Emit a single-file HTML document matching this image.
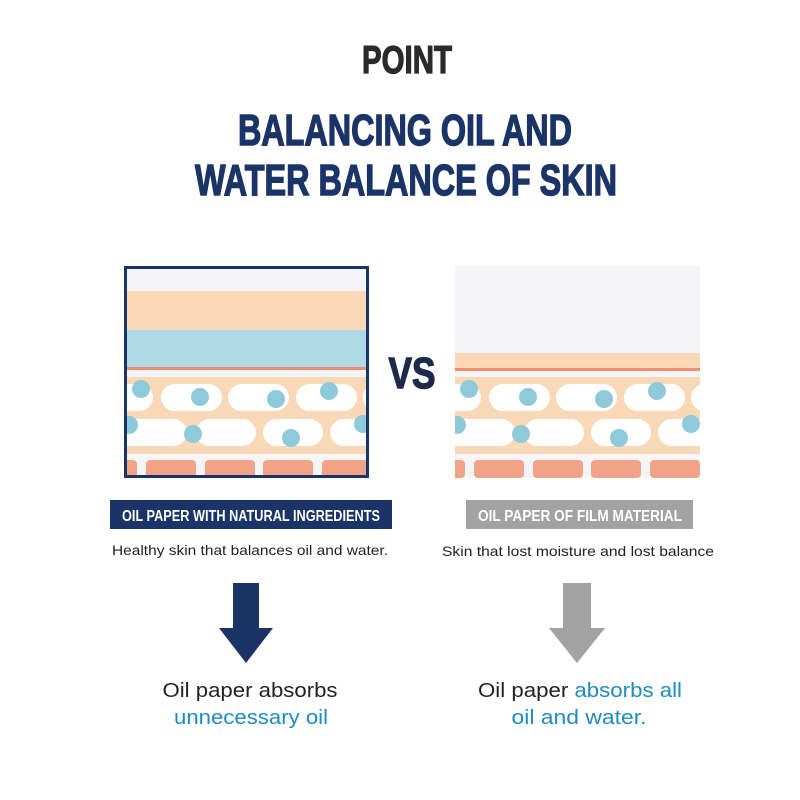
<!DOCTYPE html>
<html><head><meta charset="utf-8"><style>body{margin:0;background:#fff}svg{display:block}</style></head>
<body>
<svg width="800" height="800" viewBox="0 0 800 800" xmlns="http://www.w3.org/2000/svg" font-family="Liberation Sans, sans-serif">
<defs>
<g id="cells">
  <rect x="-50" y="377" width="400" height="77" fill="#f8d8b6"/>
  <g fill="#fff">
    <rect x="-30" y="384" width="56" height="27" rx="13.5"/>
    <rect x="34" y="384" width="61" height="27" rx="13.5"/>
    <rect x="101" y="384" width="61" height="27" rx="13.5"/>
    <rect x="169" y="384" width="61" height="27" rx="13.5"/>
    <rect x="236" y="384" width="61" height="27" rx="13.5"/>
    <rect x="-40" y="419" width="100" height="27" rx="13.5"/>
    <rect x="69" y="419" width="60" height="27" rx="13.5"/>
    <rect x="136" y="419" width="60" height="27" rx="13.5"/>
    <rect x="203" y="419" width="60" height="27" rx="13.5"/>
  </g>
  <g fill="#8ecad9">
    <circle cx="14" cy="389" r="9"/><circle cx="73" cy="397" r="9"/>
    <circle cx="149" cy="399" r="9"/><circle cx="202" cy="391" r="9"/>
    <circle cx="2" cy="425" r="9"/><circle cx="66" cy="434" r="9"/>
    <circle cx="164" cy="438" r="9"/><circle cx="236" cy="424" r="9"/>
  </g>
  <rect x="-50" y="454" width="400" height="6" fill="#f5f5f7"/>
  <g fill="#f2a286">
    <rect x="-40" y="460" width="50" height="18" rx="4"/>
    <rect x="19" y="460" width="50" height="18" rx="4"/>
    <rect x="78" y="460" width="50" height="18" rx="4"/>
    <rect x="136" y="460" width="50" height="18" rx="4"/>
    <rect x="195" y="460" width="50" height="18" rx="4"/>
  </g>
</g>
<clipPath id="cl"><rect x="127" y="268" width="239" height="207"/></clipPath>
<clipPath id="cr"><rect x="455" y="266" width="245" height="212"/></clipPath>
</defs>

<text x="407" y="73" font-size="39" font-weight="bold" fill="#2a2a2a" stroke="#2a2a2a" stroke-width="1.2" text-anchor="middle" textLength="90" lengthAdjust="spacingAndGlyphs">POINT</text>
<text x="405" y="145" font-size="44" font-weight="bold" fill="#1b3468" stroke="#1b3468" stroke-width="1.4" text-anchor="middle" textLength="334" lengthAdjust="spacingAndGlyphs">BALANCING OIL AND</text>
<text x="406" y="195" font-size="44" font-weight="bold" fill="#1b3468" stroke="#1b3468" stroke-width="1.4" text-anchor="middle" textLength="422" lengthAdjust="spacingAndGlyphs">WATER BALANCE OF SKIN</text>

<g clip-path="url(#cl)">
  <rect x="120" y="260" width="260" height="220" fill="#f5f5f7"/>
  <rect x="120" y="291" width="260" height="39" fill="#fad8b8"/>
  <rect x="120" y="330" width="260" height="37" fill="#b0d9e6"/>
  <rect x="120" y="367" width="260" height="3" fill="#ef8f70"/>
  <g transform="translate(127,0)"><use href="#cells"/></g>
</g>
<rect x="125.5" y="267.5" width="242" height="209" fill="none" stroke="#1b3468" stroke-width="3"/>

<text x="412" y="388" font-size="44" font-weight="bold" fill="#1c2b4a" stroke="#1c2b4a" stroke-width="1.4" text-anchor="middle" textLength="47" lengthAdjust="spacingAndGlyphs">VS</text>

<g clip-path="url(#cr)">
  <rect x="450" y="260" width="260" height="220" fill="#f5f5f7"/>
  <rect x="450" y="353" width="260" height="15" fill="#fad8b8"/>
  <rect x="450" y="368" width="260" height="3" fill="#ef8f70"/>
  <g transform="translate(455,0)"><use href="#cells"/></g>
</g>

<rect x="110" y="500" width="282" height="29" fill="#1b3468"/>
<text x="251" y="521" font-size="16" font-weight="bold" fill="#fff" text-anchor="middle" textLength="258" lengthAdjust="spacingAndGlyphs">OIL PAPER WITH NATURAL INGREDIENTS</text>
<rect x="466" y="500" width="227" height="29" fill="#a2a2a2"/>
<text x="580" y="521" font-size="16" font-weight="bold" fill="#fff" text-anchor="middle" textLength="204" lengthAdjust="spacingAndGlyphs">OIL PAPER OF FILM MATERIAL</text>

<text x="250" y="555" font-size="14" fill="#222" text-anchor="middle" textLength="276" lengthAdjust="spacingAndGlyphs">Healthy skin that balances oil and water.</text>
<text x="578" y="556" font-size="14" fill="#222" text-anchor="middle" textLength="272" lengthAdjust="spacingAndGlyphs">Skin that lost moisture and lost balance</text>

<polygon points="233,583 259,583 259,628 273,628 246,663 219,628 233,628" fill="#1b3468"/>
<polygon points="563,583 591,583 591,628 605,628 577,663 549,628 563,628" fill="#a2a2a2"/>

<text x="250" y="697" font-size="20" fill="#222" text-anchor="middle" textLength="175" lengthAdjust="spacingAndGlyphs">Oil paper absorbs</text>
<text x="251" y="724" font-size="20" fill="#1e8bc3" text-anchor="middle" textLength="154" lengthAdjust="spacingAndGlyphs">unnecessary oil</text>
<text x="580" y="697" font-size="20" fill="#222" text-anchor="middle" textLength="204" lengthAdjust="spacingAndGlyphs">Oil paper <tspan fill="#1e8bc3">absorbs all</tspan></text>
<text x="579" y="724" font-size="20" fill="#1e8bc3" text-anchor="middle" textLength="135" lengthAdjust="spacingAndGlyphs">oil and water.</text>
</svg>
</body></html>
